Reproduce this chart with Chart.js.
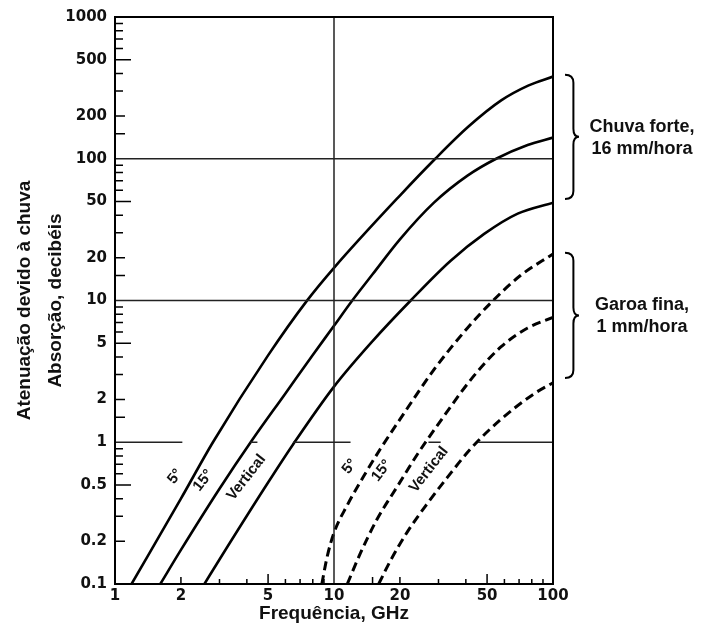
<!DOCTYPE html>
<html>
<head>
<meta charset="utf-8">
<script src="https://cdn.jsdelivr.net/npm/chart.js@4.4.1/dist/chart.umd.min.js"></script>
<style>
  html, body { margin: 0; background: #fff; }
  #wrap { width: 704px; height: 627px; }
</style>
</head>
<body>
<div id="wrap"><canvas id="rainChart"></canvas></div>
<script>
// Chuva forte, 16 mm/hora (solid lines)
var heavy5X = [1.19, 2, 2.8, 5, 7.5, 10, 20, 29, 41, 58, 77, 100];
var heavy5Y = [0.1, 0.40, 1, 4.1, 9.9, 17, 55, 100, 168, 258, 328, 380];
var heavy15X = [1.61, 2, 3, 4.2, 6, 8, 10, 12, 15, 20, 28.6, 40.7, 55, 76.6, 100];
var heavy15Y = [0.1, 0.174, 0.47, 1.02, 2.21, 4.13, 6.63, 9.8, 15.3, 27, 49, 76, 100, 125, 141];
var heavyVertX = [2.56, 3, 5, 6.5, 10, 15, 22.4, 34, 48.5, 69, 100];
var heavyVertY = [0.1, 0.149, 0.52, 0.965, 2.47, 5.17, 10, 19, 29.5, 41, 49];

// Garoa fina, 1 mm/hora (dashed lines)
var light5X = [8.8, 9.3, 10, 11.5, 13.7, 16.3, 20, 28.6, 40.7, 54, 71, 100];
var light5Y = [0.1, 0.155, 0.23, 0.36, 0.58, 0.9, 1.45, 3.25, 6.4, 10.2, 15, 21.3];
var light15X = [11.5, 13.2, 15.7, 19.5, 24, 30, 43.6, 57.8, 76.6, 100];
var light15Y = [0.1, 0.165, 0.285, 0.49, 0.82, 1.35, 2.95, 4.7, 6.4, 7.6];
var lightVertX = [16, 18.1, 21.7, 26.7, 32.8, 42.1, 57.8, 82, 100];
var lightVertY = [0.1, 0.146, 0.235, 0.37, 0.56, 0.9, 1.45, 2.2, 2.63];

// reference lines
var fullLinesY = [10, 100];
var fullLineX = 10;
var unitLineSegments = [[1, 2.03], [4.15, 4.47], [6.5, 11.9], [27, 30.7], [45.4, 100]];

var xTickLabels = ['1', '2', '5', '10', '20', '50', '100'];
var yTickLabels = ['0.1', '0.2', '0.5', '1', '2', '5', '10', '20', '50', '100', '200', '500', '1000'];

var curveLabels = [
    { text: '5°', x: 1.88, y: 0.573 },
    { text: '15°', x: 2.53, y: 0.537 },
    { text: 'Vertical', x: 3.98, y: 0.564 },
    { text: '5°', x: 11.8, y: 0.673 },
    { text: '15°', x: 16.5, y: 0.63 },
    { text: 'Vertical', x: 27.1, y: 0.641 }
];
var braceGroups = [
    { lines: ['Chuva forte,', '16 mm/hora'], top: 392, bottom: 52 },
    { lines: ['Garoa fina,', '1 mm/hora'], top: 21.7, bottom: 2.84 }
];

function toPoints(xs, ys) {
    return xs.map(function(x, i) { return { x: x, y: ys[i] }; });
}

function leadDigit(v) {
    return Math.round(v / Math.pow(10, Math.floor(Math.log10(v) + 1e-9)));
}

function matchLabel(list, value) {
    for (var i = 0; i < list.length; i++) {
        var t = parseFloat(list[i]);
        if (Math.abs(t - value) / t < 1e-6) return list[i];
    }
    return '';
}

var refStyle = { borderColor: '#222', borderWidth: 1.5, pointRadius: 0, tension: 0, fill: false };
function curve(xs, ys, dashed) {
    return {
        data: toPoints(xs, ys),
        borderColor: '#000',
        borderWidth: dashed ? 3 : 2.6,
        borderDash: dashed ? [9, 5] : [],
        pointRadius: 0,
        fill: false,
        cubicInterpolationMode: 'monotone'
    };
}

var datasets = [];
fullLinesY.forEach(function(v) {
    datasets.push(Object.assign({ data: [{ x: 1, y: v }, { x: 100, y: v }] }, refStyle));
});
datasets.push(Object.assign({ data: [{ x: fullLineX, y: 0.1 }, { x: fullLineX, y: 1000 }] }, refStyle));
var segPts = [];
unitLineSegments.forEach(function(s, i) {
    if (i) segPts.push({ x: s[0], y: null });
    segPts.push({ x: s[0], y: 1 }, { x: s[1], y: 1 });
});
datasets.push(Object.assign({ data: segPts, spanGaps: false }, refStyle));

datasets.push(curve(heavy5X, heavy5Y, false));
datasets.push(curve(heavy15X, heavy15Y, false));
datasets.push(curve(heavyVertX, heavyVertY, false));
datasets.push(curve(light5X, light5Y, true));
datasets.push(curve(light15X, light15Y, true));
datasets.push(curve(lightVertX, lightVertY, true));

function drawBrace(ctx, x, y1, y2, w) {
    var ym = (y1 + y2) / 2, r = 8, mx = x + w * 0.6;
    ctx.beginPath();
    ctx.moveTo(x, y1);
    ctx.quadraticCurveTo(mx, y1, mx, y1 + r);
    ctx.lineTo(mx, ym - r);
    ctx.quadraticCurveTo(mx, ym, x + w, ym);
    ctx.quadraticCurveTo(mx, ym, mx, ym + r);
    ctx.lineTo(mx, y2 - r);
    ctx.quadraticCurveTo(mx, y2, x, y2);
    ctx.stroke();
}

var chartDecor = {
    id: 'chartDecor',
    afterDatasetsDraw: function(chart) {
        var ctx = chart.ctx, a = chart.chartArea;
        var xs = chart.scales.x, ys = chart.scales.y;
        ctx.save();

        // frame
        ctx.strokeStyle = '#000';
        ctx.lineWidth = 2;
        ctx.strokeRect(a.left, a.top, a.right - a.left, a.bottom - a.top);

        // inner tick marks
        ctx.lineWidth = 1.5;
        ctx.beginPath();
        xs.ticks.forEach(function(t) {
            var m = leadDigit(t.value);
            if (m === 1) return;
            var len = m === 5 ? 10 : (m === 2 ? 7 : 5);
            var px = xs.getPixelForValue(t.value);
            ctx.moveTo(px, a.bottom);
            ctx.lineTo(px, a.bottom - len);
        });
        ys.ticks.forEach(function(t) {
            var m = leadDigit(t.value);
            if (m === 1) return;
            var len = m === 5 ? 16 : (m === 2 ? 10 : 8);
            var py = ys.getPixelForValue(t.value);
            ctx.moveTo(a.left, py);
            ctx.lineTo(a.left + len, py);
        });
        ctx.stroke();

        // curve labels
        ctx.fillStyle = '#111';
        ctx.font = 'bold 15px "Liberation Sans", Arial, sans-serif';
        ctx.textAlign = 'center';
        ctx.textBaseline = 'middle';
        curveLabels.forEach(function(l) {
            ctx.save();
            ctx.translate(xs.getPixelForValue(l.x), ys.getPixelForValue(l.y));
            ctx.rotate(-52 * Math.PI / 180);
            ctx.fillText(l.text, 0, 0);
            ctx.restore();
        });

        // braces and notes
        ctx.lineWidth = 2;
        ctx.font = 'bold 18px "Liberation Sans", Arial, sans-serif';
        braceGroups.forEach(function(g) {
            var y1 = ys.getPixelForValue(g.top), y2 = ys.getPixelForValue(g.bottom);
            drawBrace(ctx, a.right + 12, y1, y2, 14);
            var ym = (y1 + y2) / 2;
            ctx.fillText(g.lines[0], a.right + 89, ym - 10);
            ctx.fillText(g.lines[1], a.right + 89, ym + 12);
        });
        ctx.restore();
    }
};

var ctx = document.getElementById('rainChart').getContext('2d');
var tickFont = { family: '"DejaVu Sans", sans-serif', size: 15, weight: 'bold' };
var titleFont = { family: '"Liberation Sans", Arial, sans-serif', size: 19, weight: 'bold' };

var rainChart = new Chart(ctx, {
    type: 'line',
    data: { datasets: datasets },
    options: {
        responsive: true,
        maintainAspectRatio: false,
        animation: false,
        layout: { padding: { left: 0, right: 151, top: 15, bottom: 0 } },
        plugins: { legend: { display: false }, tooltip: { enabled: false } },
        scales: {
            x: {
                type: 'logarithmic',
                min: 1,
                max: 100,
                grid: { display: false, drawTicks: false },
                border: { display: false },
                ticks: {
                    autoSkip: false,
                    maxRotation: 0,
                    padding: 3,
                    color: '#111',
                    font: tickFont,
                    callback: function(value) { return matchLabel(xTickLabels, value); }
                },
                title: {
                    display: true,
                    text: 'Frequência, GHz',
                    color: '#111',
                    font: titleFont,
                    padding: { top: 0, bottom: 2 }
                },
                afterFit: function(s) { s.height = 43; }
            },
            y: {
                type: 'logarithmic',
                min: 0.1,
                max: 1000,
                grid: { display: false, drawTicks: false },
                border: { display: false },
                ticks: {
                    autoSkip: false,
                    padding: 8,
                    color: '#111',
                    font: tickFont,
                    callback: function(value) { return matchLabel(yTickLabels, value); }
                },
                title: {
                    display: true,
                    text: ['Atenuação devido à chuva', 'Absorção, decibéis'],
                    color: '#111',
                    font: { family: titleFont.family, size: 19, weight: 'bold', lineHeight: 1.6 },
                    padding: { top: 10, bottom: 0 }
                },
                afterFit: function(s) { s.width = 115; }
            }
        }
    },
    plugins: [chartDecor]
});
</script>
</body>
</html>
